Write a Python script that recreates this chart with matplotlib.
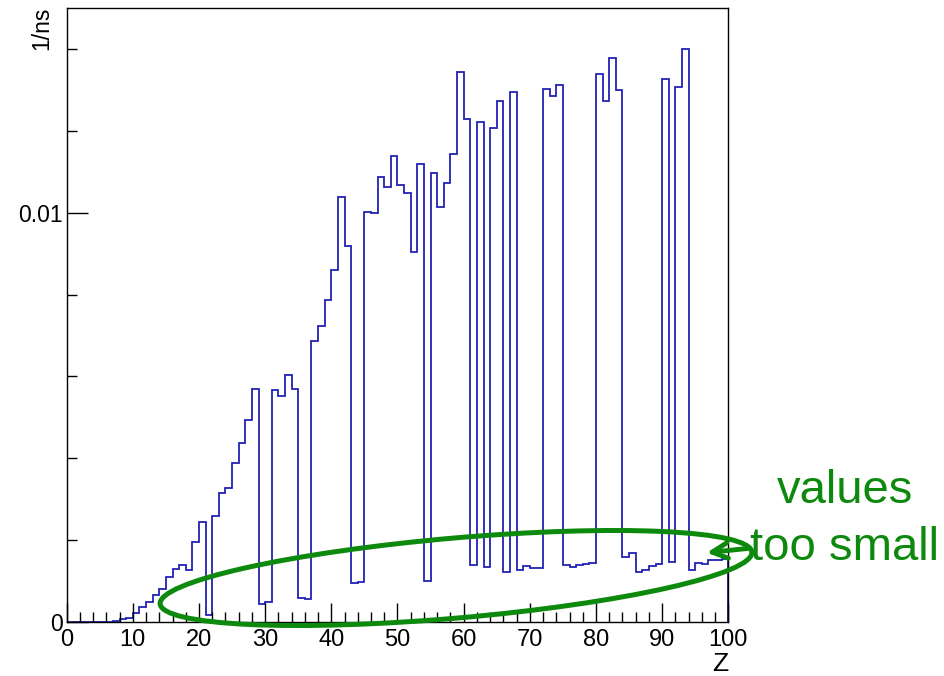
import matplotlib
matplotlib.use('Agg')
import matplotlib.pyplot as plt
import numpy as np
from matplotlib.ticker import MultipleLocator
from matplotlib.patches import Ellipse

plt.rcParams['font.family'] = ['Liberation Sans', 'DejaVu Sans']

#~~~~~~~~~~
# DATA
#~~~~~~~~~~

edges = np.arange(0, 101, 1)

# rate per bin of Z (1/ns)
rate = [
    0, 0, 0, 0, 0.00001, 0.00001, 0.00001, 0.00003, 0.00007, 0.0001,
    0.00023, 0.00037, 0.00048, 0.00066, 0.00081, 0.00109, 0.0013, 0.00139, 0.00127, 0.00196,
    0.00244, 0.00017, 0.00259, 0.00316, 0.00328, 0.00388, 0.00438, 0.00493, 0.0057, 0.00044,
    0.00049, 0.00566, 0.00553, 0.00603, 0.00569, 0.00059, 0.00056, 0.00687, 0.00722, 0.00786,
    0.00859, 0.01038, 0.00919, 0.00095, 0.00098, 0.01002, 0.00998, 0.01088, 0.01062, 0.01138,
    0.01068, 0.01048, 0.00905, 0.0112, 0.00101, 0.01096, 0.01015, 0.01072, 0.01143, 0.01344,
    0.0123, 0.0014, 0.01222, 0.00135, 0.01207, 0.01272, 0.00121, 0.01295, 0.00128, 0.00137,
    0.00131, 0.00133, 0.01303, 0.01285, 0.01311, 0.00139, 0.00134, 0.00139, 0.00141, 0.00145,
    0.01339, 0.01274, 0.01378, 0.013, 0.00159, 0.00168, 0.00121, 0.00127, 0.00138, 0.00141,
    0.01326, 0.00147, 0.01308, 0.01399, 0.00127, 0.00145, 0.00142, 0.00152, 0.00152, 0.00155,
]

ytick_vals = [0, 0.01]
ytick_labels = ['0', '0.01']

note_lines = ['values', 'too small']

#~~~~~~~~~~
# PLOTTING
#~~~~~~~~~~

W, H = 945, 676
fig = plt.figure(figsize=(W / 100, H / 100), dpi=100)
ax = fig.add_axes([66.7 / W, 1 - 622 / H, (728.3 - 66.7) / W, (622 - 8) / H])

ax.stairs(rate, edges, color='#2222b4', lw=1.3)

ax.set_xlim(0, 100)
ax.set_ylim(0, 0.015)
ax.xaxis.set_major_locator(MultipleLocator(10))
ax.xaxis.set_minor_locator(MultipleLocator(2))
ax.set_yticks(ytick_vals)
ax.set_yticklabels(ytick_labels)
ax.yaxis.set_minor_locator(MultipleLocator(0.002))

ax.tick_params(axis='both', which='both', direction='in', top=False, right=False, width=1)
ax.tick_params(axis='x', which='major', length=14, pad=5, labelsize=17)
ax.tick_params(axis='x', which='minor', length=7)
ax.tick_params(axis='y', which='major', length=15, pad=2.5, labelsize=16.5)
ax.tick_params(axis='y', which='minor', length=7.5)
for sp in ax.spines.values():
    sp.set_linewidth(1)

fig.text(53 / W, 1 - 7 / H, '1/ns', rotation=90, ha='right', va='top', fontsize=16.5)
fig.text(728 / W, 1 - 676 / H, 'Z', ha='right', va='bottom', fontsize=19)

# annotation layer in pixel units
ov = fig.add_axes([0, 0, 1, 1])
ov.set_xlim(0, W)
ov.set_ylim(H, 0)
ov.axis('off')
ov.patch.set_alpha(0)

green = '#0d8a0d'
ov.add_patch(Ellipse((456, 578), 594, 80, angle=-5, fill=False, ec=green, lw=3.6))
ov.annotate('', xy=(704, 553), xytext=(752, 548),
            arrowprops=dict(arrowstyle='->', color=green, lw=3.5, mutation_scale=28))
ov.text(845, 503, note_lines[0], color=green, fontsize=34, ha='center', va='baseline')
ov.text(845, 560, note_lines[1], color=green, fontsize=34, ha='center', va='baseline')

plt.savefig('out.png', dpi=100)
